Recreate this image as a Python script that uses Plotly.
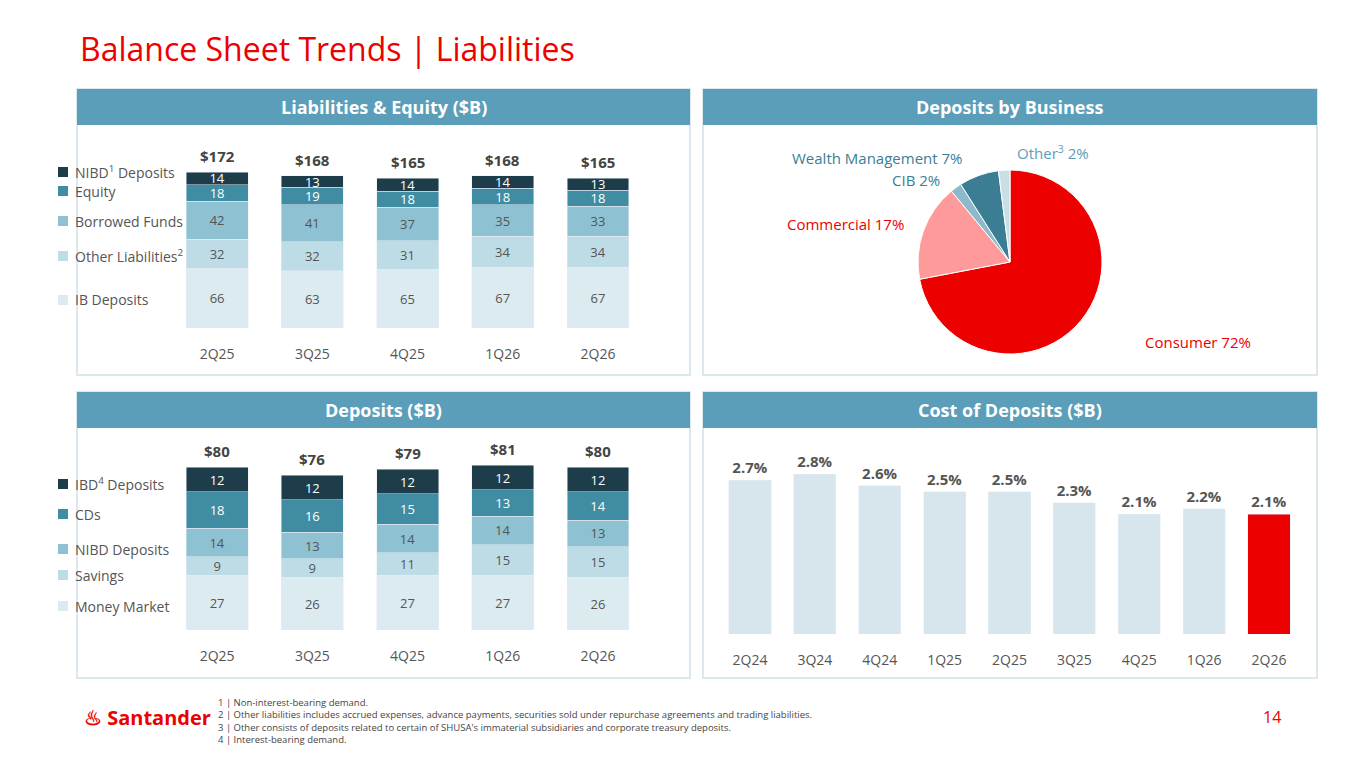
import plotly.graph_objects as go

W, H = 1365, 768
OFF = 8  # page body margin in the browser

quarters = ["2Q25", "3Q25", "4Q25", "1Q26", "2Q26"]
le_series = {
    "IB Deposits": [66, 63, 65, 67, 67],
    "Other Liabilities<sup>2</sup>": [32, 32, 31, 34, 34],
    "Borrowed Funds": [42, 41, 37, 35, 33],
    "Equity": [18, 19, 18, 18, 18],
    "NIBD<sup>1</sup> Deposits": [14, 13, 14, 14, 13],
}
le_totals = [172, 168, 165, 168, 165]

dep_series = {
    "Money Market": [27, 26, 27, 27, 26],
    "Savings": [9, 9, 11, 15, 15],
    "NIBD Deposits": [14, 13, 14, 14, 13],
    "CDs": [18, 16, 15, 13, 14],
    "IBD<sup>4</sup> Deposits": [12, 12, 12, 12, 12],
}
dep_totals = [80, 76, 79, 81, 80]

pie_labels = ["Consumer", "Commercial", "CIB", "Wealth Management", "Other<sup>3</sup>"]
pie_values = [72, 17, 2, 7, 2]

cost_q = ["2Q24", "3Q24", "4Q24", "1Q25", "2Q25", "3Q25", "4Q25", "1Q26", "2Q26"]
cost_vals = [2.7, 2.8, 2.6, 2.5, 2.5, 2.3, 2.1, 2.2, 2.1]

RED = "#EC0000"
HEAD = "#5B9EB9"
GREY = "#555555"
stack_colors = ["#DCEBF0", "#BEDCE6", "#8EC2D2", "#3F8CA3", "#1E3D4A"]
stack_text = [GREY, GREY, GREY, "white", "white"]
pie_colors = [RED, "#FF9A9A", "#8CB9CC", "#3B7E93", "#C9DFE8"]


def px(x):
    return (x - OFF) / W


def py(y):
    return 1 - (y - OFF) / H


fig = go.Figure()

# stacked bars
for (name, vals), c, tc in zip(le_series.items(), stack_colors, stack_text):
    fig.add_trace(go.Bar(x=quarters, y=vals, marker_color=c, text=vals,
                         textposition="inside", insidetextanchor="middle", textangle=0,
                         constraintext="none",
                         textfont=dict(size=13, color=tc), xaxis="x", yaxis="y",
                         showlegend=False))
for (name, vals), c, tc in zip(dep_series.items(), stack_colors, stack_text):
    fig.add_trace(go.Bar(x=quarters, y=vals, marker_color=c, text=vals,
                         textposition="inside", insidetextanchor="middle", textangle=0,
                         constraintext="none",
                         textfont=dict(size=13, color=tc), xaxis="x2", yaxis="y2",
                         showlegend=False))

fig.add_trace(go.Bar(x=cost_q, y=cost_vals,
                     marker_color=["#D6E6EC"] * (len(cost_vals) - 1) + [RED],
                     text=[f"<b>{v:.1f}%</b>" for v in cost_vals], textposition="outside",
                     textfont=dict(size=15, color=GREY), cliponaxis=False,
                     xaxis="x3", yaxis="y3", showlegend=False))

fig.add_trace(go.Pie(labels=pie_labels, values=pie_values, sort=False,
                     direction="clockwise", rotation=0,
                     marker=dict(colors=pie_colors, line=dict(color="white", width=1)),
                     textinfo="none", showlegend=False,
                     domain=dict(x=[px(918), px(1102)], y=[py(354), py(170)])))

# totals above stacks
for q, t in zip(quarters, le_totals):
    fig.add_annotation(x=q, y=t, xref="x", yref="y", text=f"<b>${t}</b>", showarrow=False,
                       yshift=16, font=dict(size=15, color="#444"))
for q, t in zip(quarters, dep_totals):
    fig.add_annotation(x=q, y=t, xref="x2", yref="y2", text=f"<b>${t}</b>", showarrow=False,
                       yshift=16, font=dict(size=15, color="#444"))

ax = dict(showgrid=False, zeroline=False, showline=False, ticks="",
          tickfont=dict(size=14, color=GREY), ticklabelstandoff=16)
ay = dict(showgrid=False, zeroline=False, showticklabels=False)
fig.update_layout(
    width=W, height=H, margin=dict(l=0, r=0, t=0, b=0),
    paper_bgcolor="white", plot_bgcolor="white", barmode="stack",
    font=dict(family="Open Sans, sans-serif"),
    bargap=0.35,
    xaxis=dict(domain=[px(169.5), px(645.6)], anchor="y", **ax),
    yaxis=dict(domain=[py(328), py(155.7)], range=[0, 190], **ay),
    xaxis2=dict(domain=[px(169.5), px(645.6)], anchor="y2", **ax),
    yaxis2=dict(domain=[py(630), py(447)], range=[0, 90], **ay),
    xaxis3=dict(domain=[px(717.6), px(1301.4)], anchor="y3", **ax),
    yaxis3=dict(domain=[py(634), py(451.6)], range=[0, 3.2], **ay),
)


def note(x, y, text, size, color, xanchor="center", **kw):
    fig.add_annotation(x=px(x), y=py(y), xref="paper", yref="paper", text=text,
                       showarrow=False, xanchor=xanchor, yanchor=kw.pop("yanchor", "middle"),
                       font=dict(size=size, color=color), **kw)


shapes = []
panels = [(77, 690, 89, 375, "Liabilities & Equity ($B)"),
          (703, 1317, 89, 375, "Deposits by Business"),
          (77, 690, 392, 678, "Deposits ($B)"),
          (703, 1317, 392, 678, "Cost of Deposits ($B)")]
for x0, x1, y0, y1, title in panels:
    shapes.append(dict(type="rect", xref="paper", yref="paper", x0=px(x0), x1=px(x1),
                       y0=py(y1), y1=py(y0), line=dict(color="#DCE8EE", width=2),
                       layer="below"))
    shapes.append(dict(type="rect", xref="paper", yref="paper", x0=px(x0), x1=px(x1),
                       y0=py(y0 + 36), y1=py(y0), fillcolor=HEAD, line=dict(width=0)))
    note((x0 + x1) / 2, y0 + 18, f"<b>{title}</b>", 18, "white")


# legends
def legend(names, ys, colors):
    for n, y, c in zip(names, ys, colors):
        shapes.append(dict(type="rect", xref="paper", yref="paper", x0=px(58), x1=px(68),
                           y0=py(y + 5), y1=py(y - 5), fillcolor=c, line=dict(width=0)))
        note(73, y, n, 14, GREY, xanchor="left")


legend(list(le_series)[::-1], [172, 191, 221, 256, 300], stack_colors[::-1])
legend(list(dep_series)[::-1], [484, 514, 549, 575, 606], stack_colors[::-1])

# pie labels
pie_ann = [("Consumer 72%", 1143, 342, RED), ("Commercial 17%", 845, 224, RED),
           ("CIB 2%", 916, 180, "#3B7E93"), ("Wealth Management 7%", 877, 158, "#3B7E93"),
           ("Other<sup>3</sup> 2%", 1053, 152, "#5B9EB9")]
for t, x, y, c in pie_ann:
    note(x, y, t, 15, c, xanchor="left" if t.startswith("Consumer") else "center")

note(78, 48, "Balance Sheet Trends | Liabilities", 32, RED, xanchor="left")
note(82, 717, "<b>♨ Santander</b>", 20, RED, xanchor="left")
note(1283, 717, "14", 16, RED, xanchor="right")
foot = ("1 | Non-interest-bearing demand.<br>"
        "2 | Other liabilities includes accrued expenses, advance payments, securities sold under repurchase agreements and trading liabilities.<br>"
        "3 | Other consists of deposits related to certain of SHUSA's immaterial subsidiaries and corporate treasury deposits.<br>"
        "4 | Interest-bearing demand.")
note(216, 694, foot, 9.5, "#444", xanchor="left", yanchor="top", align="left")

fig.update_layout(shapes=shapes)
fig.write_html("out.html")
